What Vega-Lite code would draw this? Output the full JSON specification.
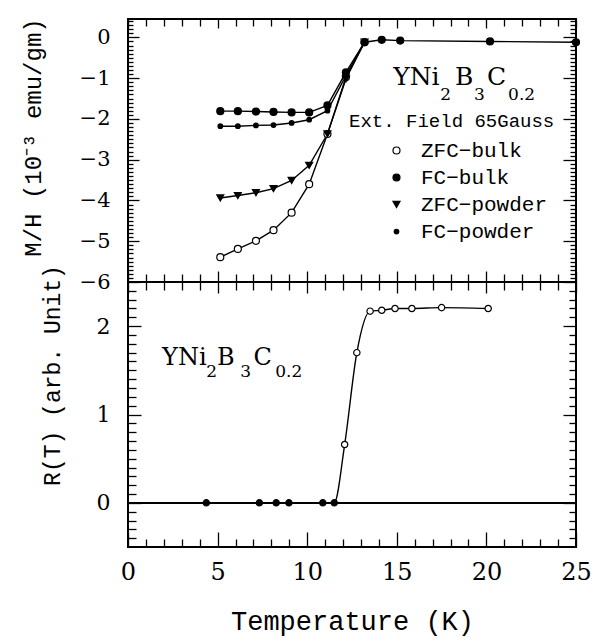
{
  "$schema": "https://vega.github.io/schema/vega-lite/v6.json",
  "padding": {"left": 20, "top": 16, "right": 0, "bottom": 5},
  "background": "white",
  "spacing": 0,
  "bounds": "flush",
  "resolve": {"scale": {"fill": "independent", "shape": "independent"}, "legend": {"fill": "independent", "shape": "independent"}},
  "config": {
    "view": {"stroke": "black", "strokeWidth": 2},
    "axis": {"grid": false, "domain": false, "ticks": true, "tickOpacity": 1, "zindex": 1, "tickColor": "#000000", "tickWidth": 1.3, "labelColor": "black", "titleColor": "black", "labelFont": "DejaVu Serif", "titleFont": "Liberation Mono", "titleFontWeight": "normal", "labelFlush": false, "labelOverlap": false}
  },
  "datasets": {
    "mag": [
      {"series": "ZFC-bulk", "T": 5.15, "M": -5.39},
      {"series": "ZFC-bulk", "T": 6.13, "M": -5.19},
      {"series": "ZFC-bulk", "T": 7.14, "M": -4.99},
      {"series": "ZFC-bulk", "T": 8.12, "M": -4.73},
      {"series": "ZFC-bulk", "T": 9.13, "M": -4.30},
      {"series": "ZFC-bulk", "T": 10.11, "M": -3.60},
      {"series": "ZFC-bulk", "T": 11.13, "M": -2.37},
      {"series": "ZFC-bulk", "T": 12.16, "M": -0.98},
      {"series": "ZFC-bulk", "T": 13.2, "M": -0.12},
      {"series": "FC-bulk", "T": 5.15, "M": -1.81},
      {"series": "FC-bulk", "T": 6.13, "M": -1.81},
      {"series": "FC-bulk", "T": 7.14, "M": -1.82},
      {"series": "FC-bulk", "T": 8.12, "M": -1.83},
      {"series": "FC-bulk", "T": 9.13, "M": -1.84},
      {"series": "FC-bulk", "T": 10.11, "M": -1.84},
      {"series": "FC-bulk", "T": 11.13, "M": -1.67},
      {"series": "FC-bulk", "T": 12.16, "M": -0.86},
      {"series": "FC-bulk", "T": 13.2, "M": -0.12},
      {"series": "FC-bulk", "T": 14.16, "M": -0.06},
      {"series": "FC-bulk", "T": 15.19, "M": -0.08},
      {"series": "FC-bulk", "T": 20.2, "M": -0.10},
      {"series": "FC-bulk", "T": 25.0, "M": -0.12},
      {"series": "ZFC-powder", "T": 5.15, "M": -3.94},
      {"series": "ZFC-powder", "T": 6.13, "M": -3.88},
      {"series": "ZFC-powder", "T": 7.14, "M": -3.81},
      {"series": "ZFC-powder", "T": 8.12, "M": -3.71},
      {"series": "ZFC-powder", "T": 9.13, "M": -3.51},
      {"series": "ZFC-powder", "T": 10.11, "M": -3.14},
      {"series": "ZFC-powder", "T": 11.13, "M": -2.37},
      {"series": "ZFC-powder", "T": 12.16, "M": -1.02},
      {"series": "ZFC-powder", "T": 13.2, "M": -0.12},
      {"series": "FC-powder", "T": 5.15, "M": -2.18},
      {"series": "FC-powder", "T": 6.13, "M": -2.18},
      {"series": "FC-powder", "T": 7.14, "M": -2.16},
      {"series": "FC-powder", "T": 8.12, "M": -2.15},
      {"series": "FC-powder", "T": 9.13, "M": -2.10},
      {"series": "FC-powder", "T": 10.11, "M": -2.02},
      {"series": "FC-powder", "T": 11.13, "M": -1.80},
      {"series": "FC-powder", "T": 12.16, "M": -0.94},
      {"series": "FC-powder", "T": 13.2, "M": -0.12}
    ],
    "res": [
      {"kind": "filled", "T": 4.37, "R": 0},
      {"kind": "filled", "T": 7.33, "R": 0},
      {"kind": "filled", "T": 8.27, "R": 0},
      {"kind": "filled", "T": 8.98, "R": 0},
      {"kind": "filled", "T": 10.87, "R": 0},
      {"kind": "filled", "T": 11.51, "R": 0},
      {"kind": "open", "T": 12.09, "R": 0.66},
      {"kind": "open", "T": 12.77, "R": 1.70},
      {"kind": "open", "T": 13.51, "R": 2.17},
      {"kind": "open", "T": 14.16, "R": 2.18},
      {"kind": "open", "T": 14.9, "R": 2.20},
      {"kind": "open", "T": 15.84, "R": 2.20},
      {"kind": "open", "T": 17.5, "R": 2.21},
      {"kind": "open", "T": 20.1, "R": 2.20}
    ]
  },
  "vconcat": [
    {
      "width": 448,
      "height": 263,
      "data": {"name": "mag"},
      "layer": [
        {
          "mark": {"type": "line", "stroke": "black", "strokeWidth": 1.4},
          "encoding": {
            "x": {"field": "T", "type": "quantitative", "scale": {"domain": [0, 25], "nice": false, "zero": false}, "axis": null},
            "y": {"field": "M", "type": "quantitative", "scale": {"domain": [-6, 0.45], "nice": false, "zero": false},
              "axis": {"orient": "left", "values": [-6, -5, -4, -3, -2, -1, 0], "ticks": false, "labelPadding": 18, "labelFontSize": 21, "title": "M/H (10⁻³ emu/gm)", "titleFontSize": 24, "titlePadding": 34, "titleY": 118}},
            "detail": {"field": "series"}
          }
        },
        {
          "mark": {"type": "point", "opacity": 1, "stroke": "black", "strokeWidth": 1.2, "size": 49},
          "encoding": {
            "x": {"field": "T", "type": "quantitative", "scale": {"domain": [0, 25], "nice": false, "zero": false},
              "axis": {"orient": "bottom", "values": [1, 2, 3, 4, 6, 7, 8, 9, 11, 12, 13, 14, 16, 17, 18, 19, 21, 22, 23, 24], "labels": false, "offset": -8, "tickSize": 8, "title": null}},
            "y": {"field": "M", "type": "quantitative", "scale": {"domain": [-6, 0.45], "nice": false, "zero": false},
              "axis": {"orient": "left", "values": [-5.9, -5.8, -5.7, -5.6, -5.5, -5.4, -5.3, -5.2, -5.1, -4.9, -4.8, -4.7, -4.6, -4.5, -4.4, -4.3, -4.2, -4.1, -3.9, -3.8, -3.7, -3.6, -3.5, -3.4, -3.3, -3.2, -3.1, -2.9, -2.8, -2.7, -2.6, -2.5, -2.4, -2.3, -2.2, -2.1, -1.9, -1.8, -1.7, -1.6, -1.5, -1.4, -1.3, -1.2, -1.1, -0.9, -0.8, -0.7, -0.6, -0.5, -0.4, -0.3, -0.2, -0.1, 0.1, 0.2, 0.3, 0.4], "labels": false, "offset": -5, "tickSize": 5, "title": null}},
            "shape": {"field": "series", "type": "nominal",
              "scale": {"domain": ["ZFC-bulk", "FC-bulk", "ZFC-powder", "FC-powder"], "range": ["circle", "circle", "triangle-down", "M-0.65,0A0.65,0.65,0,1,0,0.65,0A0.65,0.65,0,1,0,-0.65,0Z"]},
              "legend": {"title": null, "orient": "none", "legendX": 258, "legendY": 121, "labelFont": "Liberation Mono", "labelFontSize": 21, "labelColor": "black", "symbolSize": 49, "symbolStrokeColor": "black", "symbolStrokeWidth": 1.2, "symbolOpacity": 1, "labelOffset": 14, "rowPadding": 5, "padding": 0, "labelExpr": "replace(datum.label, '-', '−')",
                "encode": {"symbols": {"update": {"stroke": {"value": "black"}, "strokeWidth": {"value": 1.2}}}}}},
            "fill": {"field": "series", "type": "nominal",
              "scale": {"domain": ["ZFC-bulk", "FC-bulk", "ZFC-powder", "FC-powder"], "range": ["white", "black", "black", "black"]},
              "legend": {"title": null, "orient": "none", "legendX": 258, "legendY": 121, "labelFont": "Liberation Mono", "labelFontSize": 21, "labelColor": "black", "symbolSize": 49, "symbolStrokeColor": "black", "symbolStrokeWidth": 1.2, "symbolOpacity": 1, "labelOffset": 14, "rowPadding": 5, "padding": 0, "labelExpr": "replace(datum.label, '-', '−')",
                "encode": {"symbols": {"update": {"stroke": {"value": "black"}, "strokeWidth": {"value": 1.2}}}}}}
          }
        },
        {
          "mark": {"type": "point", "opacity": 0},
          "encoding": {
            "x": {"field": "T", "type": "quantitative", "scale": {"domain": [0, 25], "nice": false, "zero": false},
              "axis": {"orient": "top", "values": [0, 5, 10, 15, 20, 25], "labels": false, "offset": -9, "tickSize": 9, "title": null}},
            "y": {"field": "M", "type": "quantitative", "scale": {"domain": [-6, 0.45], "nice": false, "zero": false},
              "axis": {"orient": "right", "values": [-6, -5, -4, -3, -2, -1, 0], "labels": false, "offset": -13, "tickSize": 13, "title": null}}
          }
        },
        {
          "mark": {"type": "point", "opacity": 0},
          "encoding": {
            "x": {"field": "T", "type": "quantitative", "scale": {"domain": [0, 25], "nice": false, "zero": false},
              "axis": {"orient": "top", "values": [1, 2, 3, 4, 6, 7, 8, 9, 11, 12, 13, 14, 16, 17, 18, 19, 21, 22, 23, 24], "labels": false, "offset": -7, "tickSize": 7, "title": null}},
            "y": {"field": "M", "type": "quantitative", "scale": {"domain": [-6, 0.45], "nice": false, "zero": false},
              "axis": {"orient": "right", "values": [-5.9, -5.8, -5.7, -5.6, -5.5, -5.4, -5.3, -5.2, -5.1, -4.9, -4.8, -4.7, -4.6, -4.5, -4.4, -4.3, -4.2, -4.1, -3.9, -3.8, -3.7, -3.6, -3.5, -3.4, -3.3, -3.2, -3.1, -2.9, -2.8, -2.7, -2.6, -2.5, -2.4, -2.3, -2.2, -2.1, -1.9, -1.8, -1.7, -1.6, -1.5, -1.4, -1.3, -1.2, -1.1, -0.9, -0.8, -0.7, -0.6, -0.5, -0.4, -0.3, -0.2, -0.1, 0.1, 0.2, 0.3, 0.4], "labels": false, "offset": -6, "tickSize": 6, "title": null}}
          }
        },
        {
          "mark": {"type": "point", "opacity": 0},
          "encoding": {
            "x": {"field": "T", "type": "quantitative", "scale": {"domain": [0, 25], "nice": false, "zero": false},
              "axis": {"orient": "bottom", "values": [0, 5, 10, 15, 20, 25], "labels": false, "offset": -11, "tickSize": 11, "title": null}},
            "y": {"field": "M", "type": "quantitative", "scale": {"domain": [-6, 0.45], "nice": false, "zero": false},
              "axis": {"orient": "left", "values": [-6, -5, -4, -3, -2, -1, 0], "labels": false, "offset": -11, "tickSize": 11, "title": null}}
          }
        },
        {
          "data": {"values": [{}]},
          "mark": {"type": "text", "text": "YNi", "font": "DejaVu Serif", "fontSize": 25, "align": "left", "baseline": "alphabetic", "color": "black"},
          "encoding": {"x": {"datum": 14.8, "type": "quantitative", "axis": null}, "y": {"datum": -1.176, "type": "quantitative", "axis": null}}
        },
        {
          "data": {"values": [{}]},
          "mark": {"type": "text", "text": "2", "font": "DejaVu Serif", "fontSize": 17, "align": "left", "baseline": "alphabetic", "color": "black"},
          "encoding": {"x": {"datum": 17.42, "type": "quantitative", "axis": null}, "y": {"datum": -1.543, "type": "quantitative", "axis": null}}
        },
        {
          "data": {"values": [{}]},
          "mark": {"type": "text", "text": "B", "font": "DejaVu Serif", "fontSize": 25, "align": "left", "baseline": "alphabetic", "color": "black"},
          "encoding": {"x": {"datum": 18.25, "type": "quantitative", "axis": null}, "y": {"datum": -1.176, "type": "quantitative", "axis": null}}
        },
        {
          "data": {"values": [{}]},
          "mark": {"type": "text", "text": "3", "font": "DejaVu Serif", "fontSize": 17, "align": "left", "baseline": "alphabetic", "color": "black"},
          "encoding": {"x": {"datum": 19.31, "type": "quantitative", "axis": null}, "y": {"datum": -1.543, "type": "quantitative", "axis": null}}
        },
        {
          "data": {"values": [{}]},
          "mark": {"type": "text", "text": "C", "font": "DejaVu Serif", "fontSize": 25, "align": "left", "baseline": "alphabetic", "color": "black"},
          "encoding": {"x": {"datum": 20.04, "type": "quantitative", "axis": null}, "y": {"datum": -1.176, "type": "quantitative", "axis": null}}
        },
        {
          "data": {"values": [{}]},
          "mark": {"type": "text", "text": "0.2", "font": "DejaVu Serif", "fontSize": 17, "align": "left", "baseline": "alphabetic", "color": "black"},
          "encoding": {"x": {"datum": 21.21, "type": "quantitative", "axis": null}, "y": {"datum": -1.543, "type": "quantitative", "axis": null}}
        },
        {
          "data": {"values": [{}]},
          "mark": {"type": "text", "text": "Ext. Field 65Gauss", "font": "Liberation Mono", "fontSize": 19, "align": "center", "baseline": "alphabetic", "color": "black"},
          "encoding": {"x": {"datum": 18.06, "type": "quantitative", "axis": null}, "y": {"datum": -2.2, "type": "quantitative", "axis": null}}
        }
      ],
      "resolve": {"axis": {"x": "independent", "y": "independent"}}
    },
    {
      "width": 448,
      "height": 265,
      "data": {"name": "res"},
      "layer": [
        {
          "mark": {"type": "rule", "stroke": "black", "strokeWidth": 1.4},
          "encoding": {
            "y": {"datum": 0, "type": "quantitative", "scale": {"domain": [-0.5, 2.5], "nice": false, "zero": false}, "axis": null}
          }
        },
        {
          "mark": {"type": "line", "interpolate": "monotone", "stroke": "black", "strokeWidth": 1.4},
          "encoding": {
            "x": {"field": "T", "type": "quantitative", "scale": {"domain": [0, 25], "nice": false, "zero": false},
              "axis": {"orient": "bottom", "values": [0, 5, 10, 15, 20, 25], "ticks": false, "labelPadding": 13, "labelFontSize": 24, "title": "Temperature (K)", "titleFontSize": 27, "titlePadding": 24}},
            "y": {"field": "R", "type": "quantitative", "scale": {"domain": [-0.5, 2.5], "nice": false, "zero": false},
              "axis": {"orient": "left", "values": [0, 1, 2], "ticks": false, "labelPadding": 18, "labelFontSize": 22, "title": "R(T) (arb. Unit)", "titleFontSize": 23, "titlePadding": 32, "titleY": 93}}
          }
        },
        {
          "mark": {"type": "point", "opacity": 1, "stroke": "black", "strokeWidth": 1.2, "size": 40, "shape": "circle"},
          "encoding": {
            "x": {"field": "T", "type": "quantitative", "scale": {"domain": [0, 25], "nice": false, "zero": false},
              "axis": {"orient": "bottom", "values": [1, 2, 3, 4, 6, 7, 8, 9, 11, 12, 13, 14, 16, 17, 18, 19, 21, 22, 23, 24], "labels": false, "offset": -8, "tickSize": 8, "title": null}},
            "y": {"field": "R", "type": "quantitative", "scale": {"domain": [-0.5, 2.5], "nice": false, "zero": false},
              "axis": {"orient": "left", "values": [-0.4, -0.3, -0.2, -0.1, 0.1, 0.2, 0.3, 0.4, 0.5, 0.6, 0.7, 0.8, 0.9, 1.1, 1.2, 1.3, 1.4, 1.5, 1.6, 1.7, 1.8, 1.9, 2.1, 2.2, 2.3, 2.4], "labels": false, "offset": -8, "tickSize": 8, "title": null}},
            "fill": {"field": "kind", "type": "nominal", "scale": {"domain": ["filled", "open"], "range": ["black", "white"]}, "legend": null}
          }
        },
        {
          "mark": {"type": "point", "opacity": 0},
          "encoding": {
            "x": {"field": "T", "type": "quantitative", "scale": {"domain": [0, 25], "nice": false, "zero": false},
              "axis": {"orient": "top", "values": [0, 5, 10, 15, 20, 25], "labels": false, "offset": -11, "tickSize": 11, "title": null}},
            "y": {"field": "R", "type": "quantitative", "scale": {"domain": [-0.5, 2.5], "nice": false, "zero": false},
              "axis": {"orient": "right", "values": [0, 1, 2], "labels": false, "offset": -13, "tickSize": 13, "title": null}}
          }
        },
        {
          "mark": {"type": "point", "opacity": 0},
          "encoding": {
            "x": {"field": "T", "type": "quantitative", "scale": {"domain": [0, 25], "nice": false, "zero": false},
              "axis": {"orient": "top", "values": [1, 2, 3, 4, 6, 7, 8, 9, 11, 12, 13, 14, 16, 17, 18, 19, 21, 22, 23, 24], "labels": false, "offset": -8, "tickSize": 8, "title": null}},
            "y": {"field": "R", "type": "quantitative", "scale": {"domain": [-0.5, 2.5], "nice": false, "zero": false},
              "axis": {"orient": "right", "values": [-0.4, -0.3, -0.2, -0.1, 0.1, 0.2, 0.3, 0.4, 0.5, 0.6, 0.7, 0.8, 0.9, 1.1, 1.2, 1.3, 1.4, 1.5, 1.6, 1.7, 1.8, 1.9, 2.1, 2.2, 2.3, 2.4], "labels": false, "offset": -7, "tickSize": 7, "title": null}}
          }
        },
        {
          "mark": {"type": "point", "opacity": 0},
          "encoding": {
            "x": {"field": "T", "type": "quantitative", "scale": {"domain": [0, 25], "nice": false, "zero": false},
              "axis": {"orient": "bottom", "values": [0, 5, 10, 15, 20, 25], "labels": false, "offset": -15, "tickSize": 15, "title": null}},
            "y": {"field": "R", "type": "quantitative", "scale": {"domain": [-0.5, 2.5], "nice": false, "zero": false},
              "axis": {"orient": "left", "values": [0, 1, 2], "labels": false, "offset": -13, "tickSize": 13, "title": null}}
          }
        },
        {
          "data": {"values": [{}]},
          "mark": {"type": "text", "text": "YNi", "font": "DejaVu Serif", "fontSize": 24, "align": "left", "baseline": "alphabetic", "color": "black"},
          "encoding": {"x": {"datum": 1.9, "type": "quantitative", "axis": null}, "y": {"datum": 1.564, "type": "quantitative", "axis": null}}
        },
        {
          "data": {"values": [{}]},
          "mark": {"type": "text", "text": "2", "font": "DejaVu Serif", "fontSize": 17, "align": "left", "baseline": "alphabetic", "color": "black"},
          "encoding": {"x": {"datum": 4.37, "type": "quantitative", "axis": null}, "y": {"datum": 1.424, "type": "quantitative", "axis": null}}
        },
        {
          "data": {"values": [{}]},
          "mark": {"type": "text", "text": "B", "font": "DejaVu Serif", "fontSize": 24, "align": "left", "baseline": "alphabetic", "color": "black"},
          "encoding": {"x": {"datum": 4.96, "type": "quantitative", "axis": null}, "y": {"datum": 1.564, "type": "quantitative", "axis": null}}
        },
        {
          "data": {"values": [{}]},
          "mark": {"type": "text", "text": "3", "font": "DejaVu Serif", "fontSize": 17, "align": "left", "baseline": "alphabetic", "color": "black"},
          "encoding": {"x": {"datum": 6.26, "type": "quantitative", "axis": null}, "y": {"datum": 1.424, "type": "quantitative", "axis": null}}
        },
        {
          "data": {"values": [{}]},
          "mark": {"type": "text", "text": "C", "font": "DejaVu Serif", "fontSize": 24, "align": "left", "baseline": "alphabetic", "color": "black"},
          "encoding": {"x": {"datum": 7.0, "type": "quantitative", "axis": null}, "y": {"datum": 1.564, "type": "quantitative", "axis": null}}
        },
        {
          "data": {"values": [{}]},
          "mark": {"type": "text", "text": "0.2", "font": "DejaVu Serif", "fontSize": 17, "align": "left", "baseline": "alphabetic", "color": "black"},
          "encoding": {"x": {"datum": 8.22, "type": "quantitative", "axis": null}, "y": {"datum": 1.424, "type": "quantitative", "axis": null}}
        }
      ],
      "resolve": {"axis": {"x": "independent", "y": "independent"}}
    }
  ]
}
